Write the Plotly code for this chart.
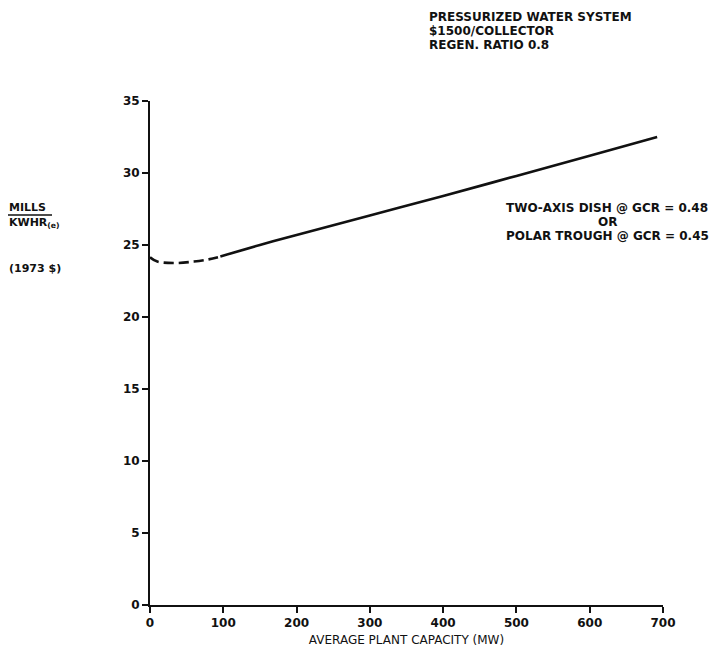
import plotly.graph_objects as go

# Levelized energy cost vs. average plant capacity
dash_x = [0, 10, 35, 60, 80, 96]
dash_y = [24.15, 23.85, 23.75, 23.85, 24.0, 24.2]
solid_x = [96, 150, 200, 300, 400, 500, 600, 692]
solid_y = [24.2, 25.0, 25.7, 27.05, 28.4, 29.8, 31.2, 32.5]

x_ticks = [0, 100, 200, 300, 400, 500, 600, 700]
y_ticks = [0, 5, 10, 15, 20, 25, 30, 35]

FONT = "DejaVu Sans, Verdana, sans-serif"
INK = "#111111"
W, H = 724, 663
L, R, T, B = 150, 61, 101, 58

fig = go.Figure()
fig.add_trace(go.Scatter(x=dash_x, y=dash_y, mode="lines",
                         line=dict(color=INK, width=2.6, dash="10px,5px", shape="spline"),
                         showlegend=False, hoverinfo="skip"))
fig.add_trace(go.Scatter(x=solid_x, y=solid_y, mode="lines",
                         line=dict(color=INK, width=2.6, shape="spline"),
                         showlegend=False, hoverinfo="skip"))

tick_font = dict(family=FONT, size=12, color=INK, weight="bold")
fig.update_xaxes(range=[0, 700], tickvals=x_ticks, ticktext=[str(v) for v in x_ticks],
                 showgrid=False, zeroline=False, showline=True, linecolor=INK, linewidth=2,
                 ticks="outside", ticklen=6, tickwidth=2, tickcolor=INK,
                 tickfont=tick_font,
                 title=dict(text="AVERAGE PLANT CAPACITY (MW)",
                            font=dict(family=FONT, size=12, color=INK),
                            standoff=6))
fig.update_yaxes(range=[0, 35], tickvals=y_ticks, ticktext=[str(v) for v in y_ticks],
                 showgrid=False, zeroline=False, showline=True, linecolor=INK, linewidth=2,
                 ticks="outside", ticklen=6, tickwidth=2, tickcolor=INK,
                 tickfont=tick_font)

pw, ph = W - L - R, H - T - B


def page_text(px, py, text, size=12, xanchor="left", bold=True):
    """Place a text line at page pixel position (px, py = vertical centre)."""
    font = dict(family=FONT, size=size, color=INK)
    if bold:
        font["weight"] = "bold"
    fig.add_annotation(x=(px - L) / pw, y=(H - B - py) / ph, xref="paper", yref="paper",
                       text=text, showarrow=False, xanchor=xanchor, yanchor="middle",
                       borderpad=0, font=font)


# case description, top right
page_text(428, 17, "PRESSURIZED WATER SYSTEM")
page_text(428, 31, "$1500/COLLECTOR")
page_text(428, 45, "REGEN. RATIO 0.8")

# collector note beside the curve
page_text(607, 208, "TWO-AXIS DISH @ GCR = 0.48", xanchor="center")
page_text(607, 222, "OR", xanchor="center")
page_text(607, 236, "POLAR TROUGH @ GCR = 0.45", xanchor="center")

# y-axis unit label
page_text(8, 207, "MILLS", size=11)
page_text(8, 223, "KWHR<sub>(e)</sub>", size=11)
page_text(8, 268, "(1973 $)", size=11)
fig.add_shape(type="line", xref="paper", yref="paper",
              x0=(8 - L) / pw, x1=(52 - L) / pw,
              y0=(H - B - 215) / ph, y1=(H - B - 215) / ph,
              line=dict(color=INK, width=1.5))

fig.update_layout(
    width=W, height=H,
    margin=dict(l=L, r=R, t=T, b=B),
    paper_bgcolor="white", plot_bgcolor="white",
)

fig.write_html("out.html")
